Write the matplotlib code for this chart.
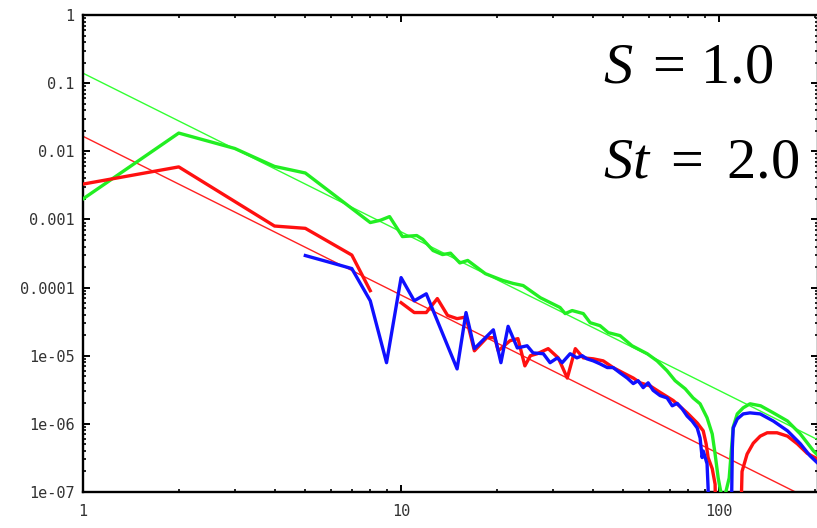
import matplotlib
matplotlib.use("Agg")
import matplotlib.pyplot as plt
from matplotlib.ticker import FixedLocator, FixedFormatter, LogLocator, NullFormatter

# ---- data ----
fit_x = [1, 205]
fit_green = [0.14, 5.8e-7]
fit_red = [0.0166, 6.8e-8]

green_x = [1, 2, 3, 4, 5, 8, 8.6, 9.2, 10.1, 11.2, 11.7, 12.6, 13.5, 14.3, 15.3,
           16.2, 18.4, 20.9, 22.5, 24.2, 27.4, 31.6, 32.8, 34.5, 37.4, 39.3, 42.2,
           44.8, 48.8, 53.2, 59.4, 63.8, 68.6, 72.7, 78.2, 82.8, 87.1, 91.6, 95.1,
           97.1, 99.3, 101, 103, 107.5, 110.7, 114, 119, 125, 135, 148, 164, 180,
           198, 205]
green_y = [2.0e-3, 1.85e-2, 1.1e-2, 6.0e-3, 4.8e-3, 9.0e-4, 9.7e-4, 1.1e-3, 5.6e-4,
           5.8e-4, 5.1e-4, 3.5e-4, 3.05e-4, 3.2e-4, 2.3e-4, 2.5e-4, 1.6e-4, 1.27e-4,
           1.15e-4, 1.07e-4, 7.1e-5, 5.1e-5, 4.15e-5, 4.6e-5, 4.15e-5, 3.05e-5,
           2.76e-5, 2.18e-5, 1.97e-5, 1.4e-5, 1.07e-5, 8.4e-6, 6.0e-6, 4.3e-6,
           3.27e-6, 2.4e-6, 1.97e-6, 1.23e-6, 7.1e-7, 3.6e-7, 1.6e-7, 1.05e-7,
           7e-8, 1.6e-7, 9.0e-7, 1.4e-6, 1.72e-6, 1.97e-6, 1.84e-6, 1.45e-6, 1.1e-6,
           7.1e-7, 4.0e-7, 3.4e-7]

red_a_x = [1, 2, 4, 5, 7, 8]
red_a_y = [3.3e-3, 5.9e-3, 8.0e-4, 7.4e-4, 3.0e-4, 9.0e-5]

red_b_x = [10, 11, 12, 13, 14, 15, 16, 17, 18.6, 19.7, 20.2, 22, 23.3, 24.5, 25.5,
           26.8, 29, 31.2, 33.3, 35.3, 37.4, 40.2, 43.2, 46.4, 49.9, 53.7, 56.5,
           60.7, 65.2, 71.7, 79.3, 85.3, 89.1, 91, 92.3, 95.1, 97.1, 98.6, 100,
           114.7, 118, 122.4, 128, 134.6, 141.6, 152, 164, 176, 189, 205]
red_b_y = [6.0e-5, 4.3e-5, 4.3e-5, 6.9e-5, 3.9e-5, 3.5e-5, 3.7e-5, 1.18e-5, 1.84e-5,
           1.84e-5, 1.18e-5, 1.66e-5, 1.78e-5, 7.1e-6, 1.0e-5, 1.07e-5, 1.27e-5,
           9.3e-6, 4.7e-6, 1.27e-5, 9.3e-6, 9.0e-6, 8.4e-6, 6.7e-6, 5.6e-6, 4.7e-6,
           4.0e-6, 3.6e-6, 2.9e-6, 2.2e-6, 1.45e-6, 1.03e-6, 7.9e-7, 5.1e-7, 3.2e-7,
           2.2e-7, 1.3e-7, 1e-9, 1e-9, 1e-9, 2.0e-7, 3.6e-7, 5.2e-7, 6.6e-7, 7.4e-7,
           7.4e-7, 6.6e-7, 5.1e-7, 3.7e-7, 3.0e-7]

blue_x = [5, 6, 7, 8, 9, 10, 11, 12, 15, 16, 17, 19.5, 20.6, 21.7, 23.2, 24.9, 26,
          28, 29.4, 31, 32.1, 34, 35.7, 37.1, 38.4, 40.2, 42.2, 44.5, 46.4, 48.8,
          51.4, 53.7, 55.6, 57.7, 59.8, 62, 65.2, 68.6, 71.2, 73.8, 76.5, 79.3,
          82.2, 85.3, 87.1, 88.4, 89.1, 91.6, 92.3, 93.7, 108, 110, 110.7, 114, 119,
          125, 134.6, 148, 164, 180, 193, 205]
blue_y = [2.95e-4, 2.33e-4, 1.9e-4, 6.4e-5, 7.9e-6, 1.4e-4, 6.4e-5, 8.1e-5, 6.4e-6,
          4.3e-5, 1.27e-5, 2.4e-5, 7.9e-6, 2.7e-5, 1.3e-5, 1.4e-5, 1.1e-5, 1.07e-5,
          7.9e-6, 9.3e-6, 7.9e-6, 1.07e-5, 9.3e-6, 1.0e-5, 9.0e-6, 8.4e-6, 7.6e-6,
          6.7e-6, 6.7e-6, 5.6e-6, 4.7e-6, 3.9e-6, 4.3e-6, 3.4e-6, 4.0e-6, 3.1e-6,
          2.6e-6, 2.4e-6, 1.84e-6, 2.0e-6, 1.66e-6, 1.3e-6, 1.1e-6, 8.7e-7, 6.2e-7,
          3.2e-7, 4.0e-7, 2.6e-7, 1.15e-7, 1e-9, 1e-9, 4.4e-7, 8.7e-7, 1.18e-6,
          1.4e-6, 1.45e-6, 1.4e-6, 1.1e-6, 7.9e-7, 5.1e-7, 3.4e-7, 2.6e-7]

xtick_vals = [1, 10, 100]
xtick_labels = ["1", "10", "100"]
ytick_vals = [1, 0.1, 0.01, 0.001, 0.0001, 1e-05, 1e-06, 1e-07]
ytick_labels = ["1", "0.1", "0.01", "0.001", "0.0001", "1e-05", "1e-06", "1e-07"]

# ---- figure ----
plt.rcParams["mathtext.fontset"] = "custom"
plt.rcParams["mathtext.rm"] = "Liberation Serif"
plt.rcParams["mathtext.it"] = "Liberation Serif:italic"

fig = plt.figure(figsize=(8.17, 5.28), dpi=100)
ax = fig.add_axes([83 / 817, 36 / 528, 735 / 817, 477 / 528])
ax.set_xscale("log")
ax.set_yscale("log")
ax.set_xlim(1, 204.5)
ax.set_ylim(1e-7, 1)

GREEN = "#22ee22"
RED = "#ff1010"
BLUE = "#1010ff"

ax.plot(fit_x, fit_green, color="#33ff33", lw=1.0, zorder=2)
ax.plot(fit_x, fit_red, color="#ff2020", lw=1.0, zorder=2)
ax.plot(green_x, green_y, color=GREEN, lw=2.4, zorder=3)
ax.plot(red_a_x, red_a_y, color=RED, lw=2.4, zorder=3)
ax.plot(red_b_x, red_b_y, color=RED, lw=2.4, zorder=3)
ax.plot(blue_x, blue_y, color=BLUE, lw=2.4, zorder=4)

ax.xaxis.set_major_locator(FixedLocator(xtick_vals))
ax.xaxis.set_major_formatter(FixedFormatter(xtick_labels))
ax.yaxis.set_major_locator(FixedLocator(ytick_vals))
ax.yaxis.set_major_formatter(FixedFormatter(ytick_labels))
ax.xaxis.set_minor_locator(LogLocator(base=10, subs=range(2, 10), numticks=20))
ax.yaxis.set_minor_locator(LogLocator(base=10, subs=range(2, 10), numticks=20))
ax.xaxis.set_minor_formatter(NullFormatter())
ax.yaxis.set_minor_formatter(NullFormatter())

ax.tick_params(which="both", direction="in", top=True, right=True, colors="black",
               labelcolor="#333333")
ax.tick_params(which="major", length=5, width=1.4)
ax.tick_params(which="minor", length=2.5, width=1.2)
ax.tick_params(axis="y", which="major", pad=6)
ax.tick_params(axis="x", which="major", pad=9)
for lab in ax.get_xticklabels() + ax.get_yticklabels():
    lab.set_fontfamily("DejaVu Sans Mono")
    lab.set_fontsize(11)

for s in ax.spines.values():
    s.set_linewidth(1.7)
    s.set_color("black")

ax.text(0.708, 0.8595, r"$S\;=\,1.0$", transform=ax.transAxes, fontsize=42,
        va="baseline", ha="left", zorder=6,
        bbox=dict(facecolor="white", edgecolor="none", pad=2))
ax.text(0.708, 0.66, r"$St\ =\ 2.0$", transform=ax.transAxes, fontsize=42,
        va="baseline", ha="left", zorder=6,
        bbox=dict(facecolor="white", edgecolor="none", pad=2))

fig.savefig("out.png", dpi=100)
